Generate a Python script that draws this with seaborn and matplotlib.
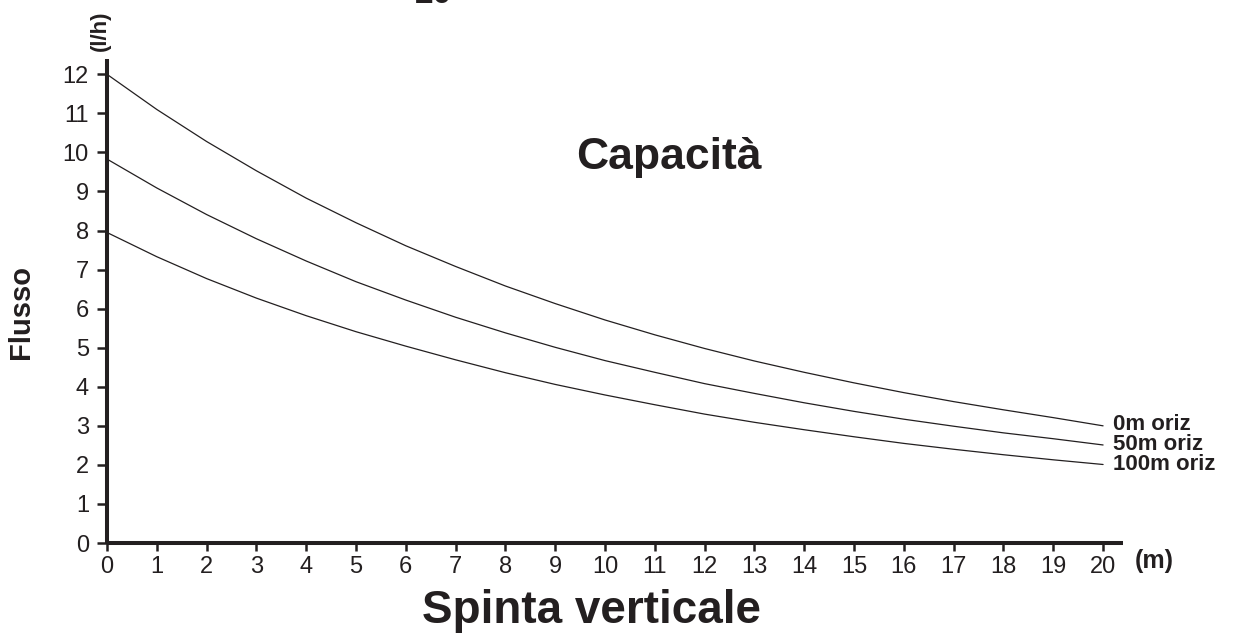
import numpy as np
import pandas as pd
import matplotlib
matplotlib.use("Agg")
import matplotlib.pyplot as plt
import seaborn as sns

# ---- data ----
spinta = list(range(0, 21))
flusso_0m = [12.0, 11.10, 10.28, 9.53, 8.83, 8.20, 7.61, 7.08, 6.58, 6.13, 5.71,
             5.33, 4.98, 4.66, 4.37, 4.10, 3.85, 3.62, 3.41, 3.21, 3.0]
flusso_50m = [9.83, 9.09, 8.41, 7.79, 7.22, 6.69, 6.22, 5.78, 5.38, 5.01, 4.67,
              4.37, 4.08, 3.83, 3.59, 3.37, 3.17, 2.99, 2.82, 2.67, 2.51]
flusso_100m = [7.95, 7.33, 6.77, 6.27, 5.82, 5.41, 5.04, 4.69, 4.36, 4.06, 3.79,
               3.54, 3.30, 3.09, 2.90, 2.72, 2.55, 2.40, 2.26, 2.13, 2.01]
series_names = ["0m oriz", "50m oriz", "100m oriz"]
x_ticks = list(range(0, 21))
y_ticks = list(range(0, 13))

df = pd.concat([
    pd.DataFrame({"x": spinta, "y": vals, "serie": name})
    for name, vals in zip(series_names, [flusso_0m, flusso_50m, flusso_100m])
])

sns.set_theme(style="ticks")
plt.rcParams["font.family"] = ["Liberation Sans", "DejaVu Sans"]
ink = "#231f20"

fig = plt.figure(figsize=(12.39, 6.36), dpi=100)
ax = fig.add_axes([107 / 1239, 1 - 543 / 636, (1123 - 107) / 1239, (543 - 58.7) / 636])

sns.lineplot(data=df, x="x", y="y", hue="serie", palette=[ink] * 3,
             legend=False, linewidth=0.9, ax=ax)

ax.set_xlim(0, 20.4)
ax.set_ylim(0, 12.4)
ax.set_xticks(x_ticks)
ax.set_yticks(y_ticks)
ax.set_xticklabels([str(v) for v in x_ticks])
ax.set_yticklabels([str(v) for v in y_ticks])
ax.set_xlabel("")
ax.set_ylabel("")
sns.despine(ax=ax)
for s in ["left", "bottom"]:
    ax.spines[s].set_linewidth(2.9)
    ax.spines[s].set_color(ink)
    ax.spines[s].set_capstyle("butt")
ax.tick_params(axis="x", direction="out", length=5.5, width=1.8, color=ink,
               labelsize=17, labelcolor=ink, pad=4)
ax.tick_params(axis="y", direction="out", length=7, width=1.8, color=ink,
               labelsize=17, labelcolor=ink, pad=6)
ax.set_facecolor("white")
fig.patch.set_facecolor("white")

# end labels of the curves
label_y = [425, 445, 465]
for name, py in zip(series_names, label_y):
    fig.text(1113 / 1239, 1 - py / 636, name, fontsize=16, fontweight="bold",
             color=ink, ha="left", va="center")

# titles and axis texts
fig.text(669 / 1239, 1 - 157 / 636, "Capacità", fontsize=32, fontweight="bold",
         color=ink, ha="center", va="center")
fig.text(592 / 1239, 1 - 611 / 636, "Spinta verticale", fontsize=33, fontweight="bold",
         color=ink, ha="center", va="center")
fig.text(21 / 1239, 1 - 312 / 636, "Flusso", fontsize=21, fontweight="bold",
         color=ink, ha="center", va="center", rotation=90)
fig.text(100 / 1239, 1 - 31 / 636, "(l/h)", fontsize=16, fontweight="bold",
         color=ink, ha="center", va="center", rotation=90)
fig.text(1154 / 1239, 1 - 561 / 636, "(m)", fontsize=18, fontweight="bold",
         color=ink, ha="center", va="center")
fig.text(433 / 1239, 1 - 3 / 636, "20", fontsize=24, fontweight="bold",
         color=ink, ha="center", va="baseline")

fig.savefig("out.png", dpi=100, facecolor="white")
